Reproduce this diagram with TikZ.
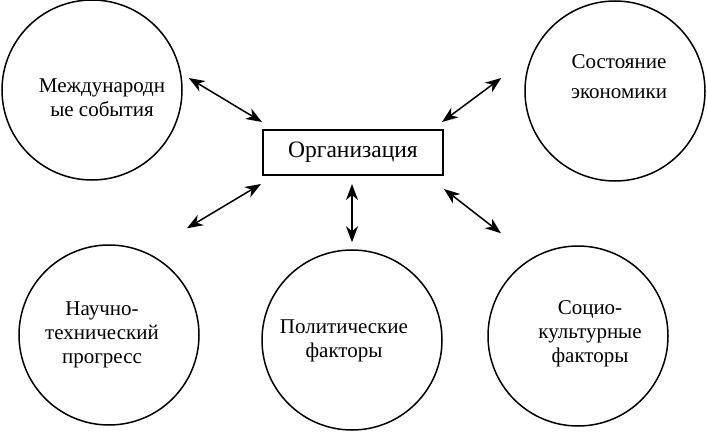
\documentclass[tikz,border=0pt]{standalone}
\usepackage{fontspec}
\setmainfont{Liberation Serif}
\newfontfamily\timesfont{Liberation Serif}
\usetikzlibrary{arrows.meta}
\tikzset{
  factor/.style={circle,draw=black,line width=1.5pt,minimum size=180pt,inner sep=0pt},
  factxt/.style={align=center,font=\timesfont\fontsize{21}{24}\selectfont,inner sep=0pt},
  orgbox/.style={draw=black,line width=2pt,minimum width=180pt,minimum height=45pt,
                 inner sep=0pt,font=\timesfont\fontsize{23.5}{26}\selectfont},
  link/.style={{Stealth[length=16pt,width=12pt,inset=5pt]}-{Stealth[length=16pt,width=12pt,inset=5pt]},
               line width=1.5pt},
}
\begin{document}
\begin{tikzpicture}[x=1pt,y=-1pt]
  \useasboundingbox (0,0) rectangle (707,433);
  \node[orgbox] (org) at (353,152.5) {Организация};
  % factors round the organisation
  \node[factor] (mo)  at (92,90)   {};
  \node[factor] (se)  at (615,91)  {};
  \node[factor] (ntp) at (109,335) {};
  \node[factor] (pf)  at (352,340) {};
  \node[factor] (skf) at (578,336) {};
  \node[factxt] (mo-t)  at (102,98)  {Международн\\ые события};
  \node[factxt,font=\timesfont\fontsize{21}{30}\selectfont] (se-t) at (619,77) {Состояние\\экономики};
  \node[factxt] (ntp-t) at (102,335) {Научно-\\технический\\прогресс};
  \node[factxt] (pf-t)  at (344,341) {Политические\\факторы};
  \node[factxt] (skf-t) at (590,334) {Социо-\\культурные\\факторы};
  % arrow ends
  \coordinate (mo-a)  at ([shift={(6,-12)}]mo.east);
  \coordinate (se-a)  at ([shift={(-23,-13)}]se.west);
  \coordinate (ntp-a) at ([shift={(78,-16)}]ntp.north);
  \coordinate (pf-a)  at ([shift={(0,-7)}]pf.north);
  \coordinate (skf-a) at ([shift={(-77,-12)}]skf.north);
  \draw[link] (mo-a)  -- ([shift={(0,-7)}]org.north west);
  \draw[link] (se-a)  -- ([shift={(-2,-7)}]org.north east);
  \draw[link] (ntp-a) -- ([shift={(-1,8)}]org.south west);
  \draw[link] (pf-a)  -- ([shift={(-1,8)}]org.south);
  \draw[link] (skf-a) -- ([shift={(0,13)}]org.south east);
\end{tikzpicture}
\end{document}
